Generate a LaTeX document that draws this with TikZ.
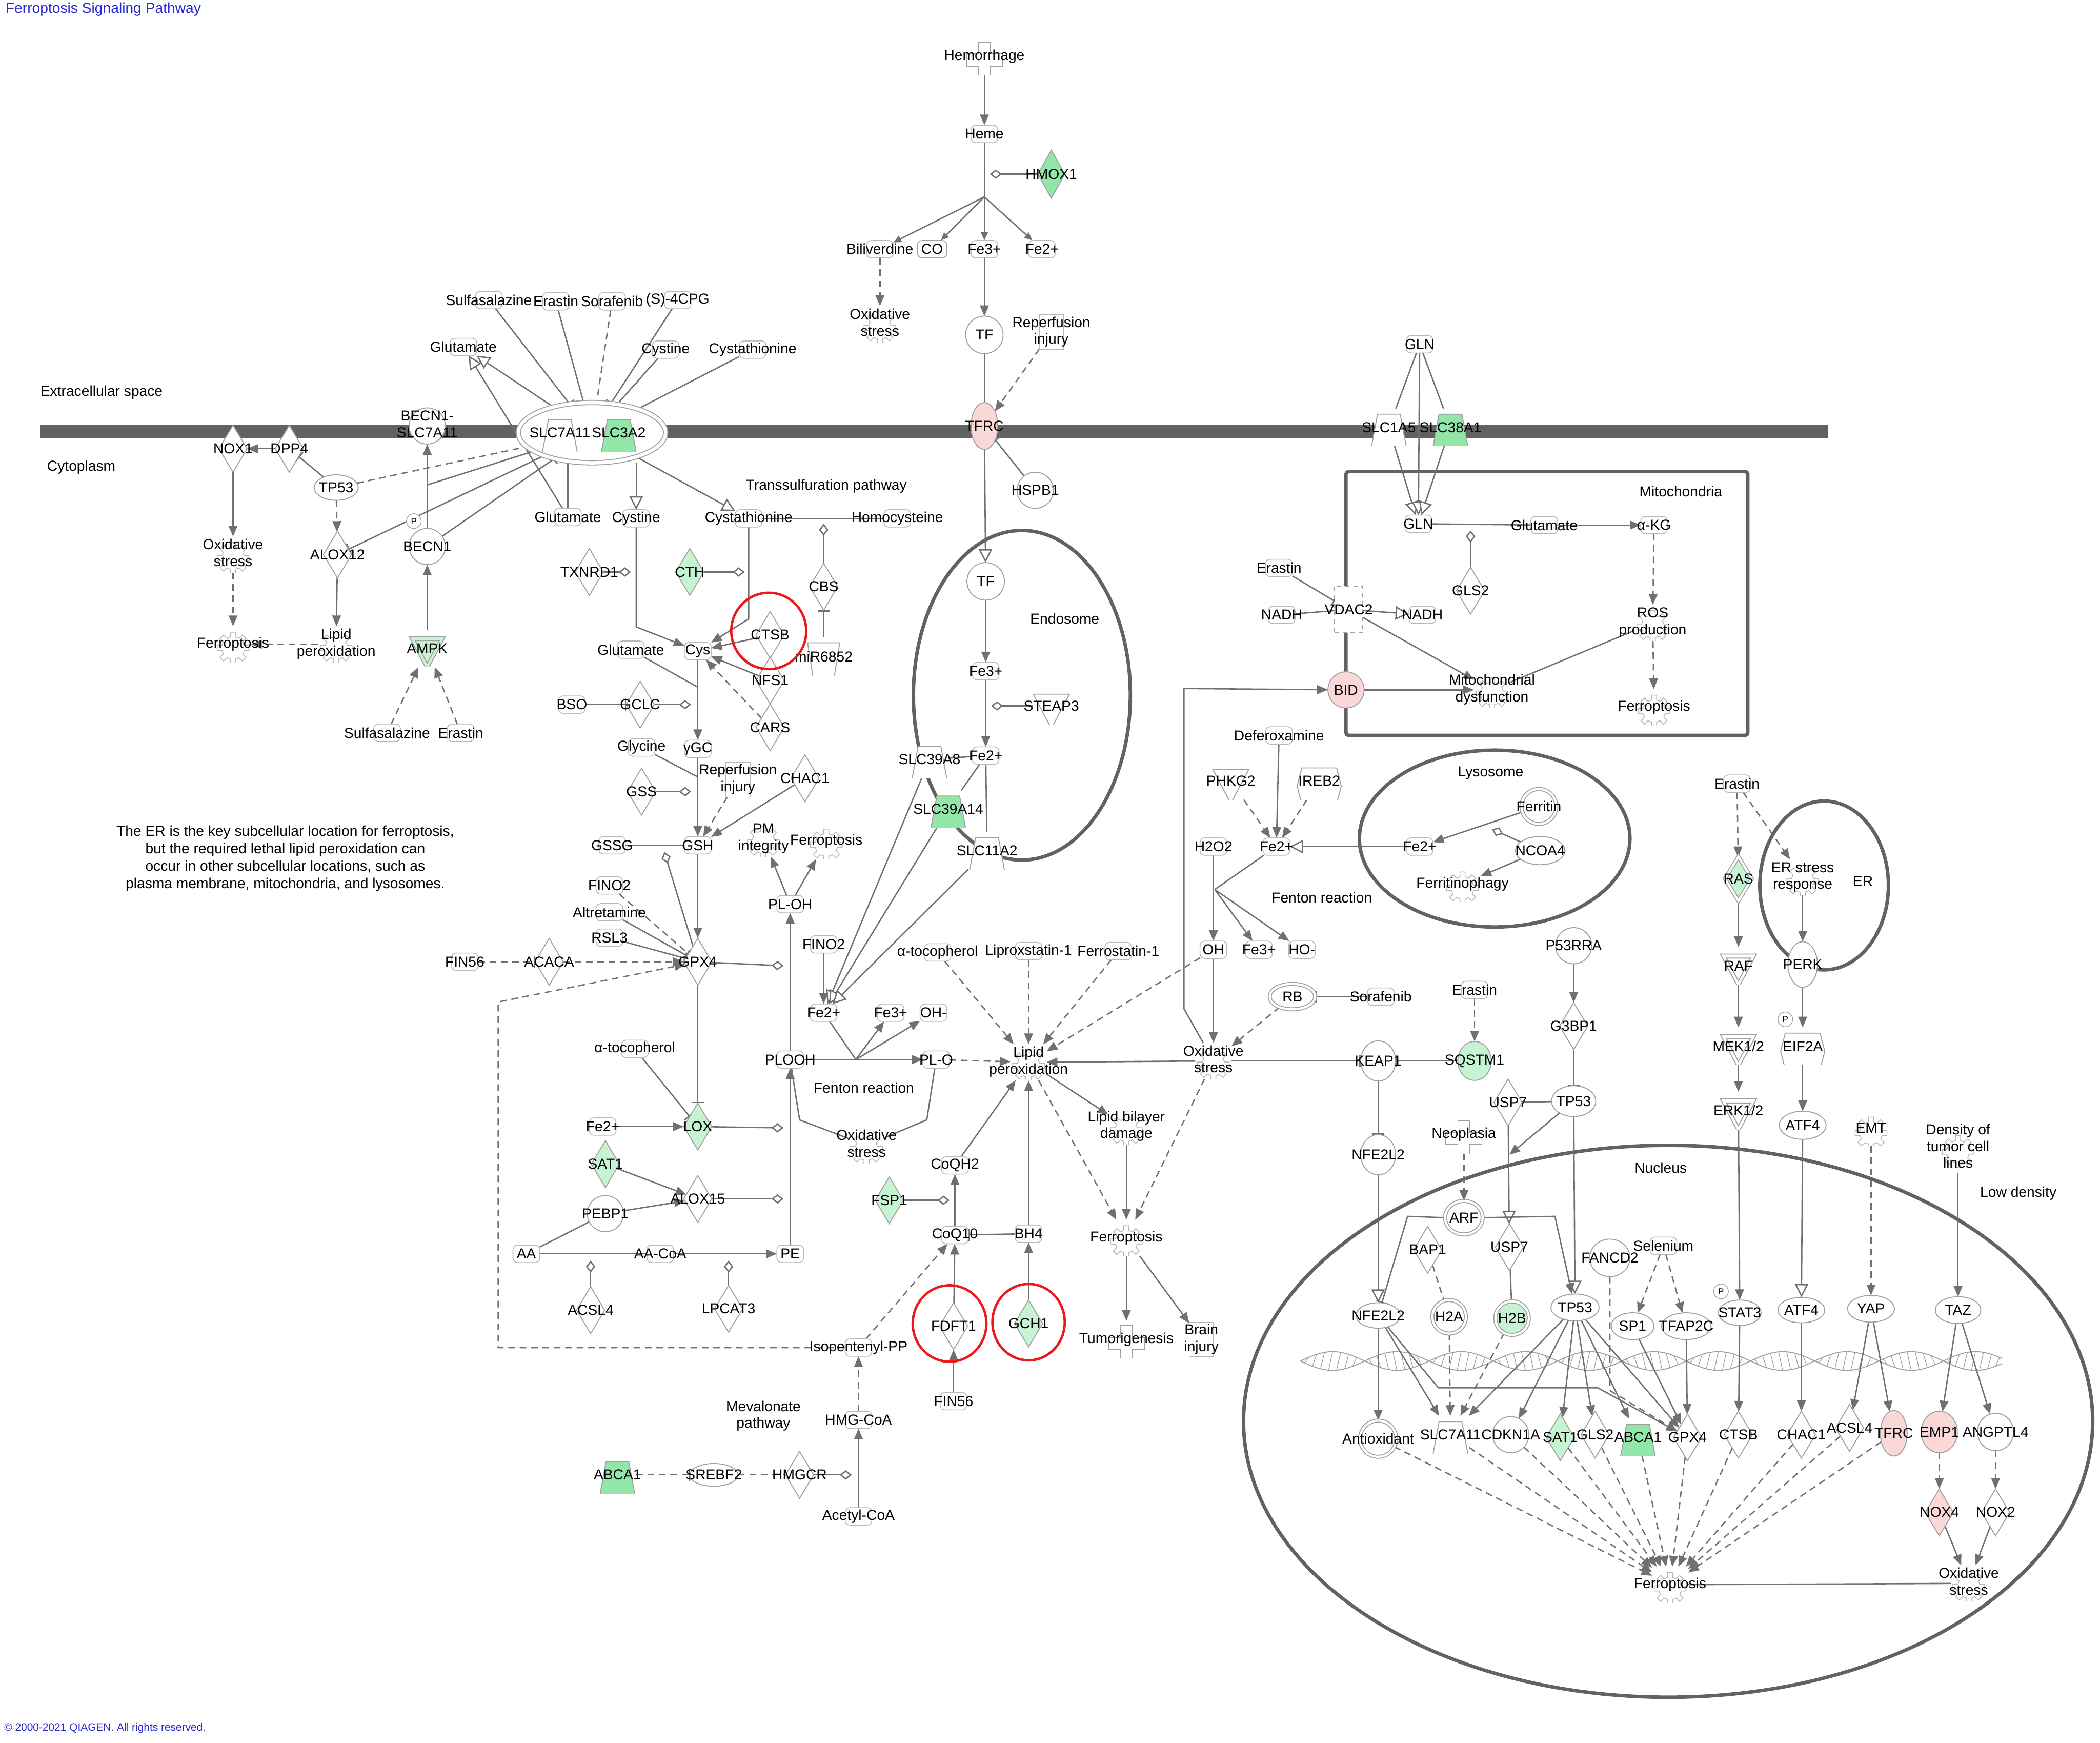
\documentclass[tikz,border=0pt]{standalone}
\usepackage{fontspec}
\setmainfont{Liberation Sans}
\usetikzlibrary{arrows.meta,shapes.geometric,calc}
\pgfdeclarelayer{back}\pgfdeclarelayer{edges}
\pgfsetlayers{back,edges,main}
\definecolor{lc}{RGB}{112,112,112}
\definecolor{sc}{RGB}{160,160,160}
\definecolor{cc}{RGB}{185,185,185}
\definecolor{kc}{RGB}{98,98,98}
\definecolor{gl}{RGB}{198,244,210}
\definecolor{gm}{RGB}{145,230,168}
\definecolor{pk}{RGB}{251,216,216}
\definecolor{tb}{RGB}{40,40,210}
\definecolor{rc}{RGB}{235,25,25}
\newcommand\myfs{\fontsize{10.8}{12.5}\selectfont}
\newcommand\twol[2]{\begin{tabular}{@{}c@{}}#1\\#2\end{tabular}}
\tikzset{
 zw/.style={execute at begin node={\setbox0=\hbox\bgroup}, execute at end node={\egroup\hbox to 0pt{\hss\box0\hss}}},
 nb/.style={font=\myfs, inner sep=0pt, outer sep=0pt, zw, text=black},
 lbl/.style={font=\myfs, inner sep=0pt, text=black},
 chem/.style={nb, rectangle, rounded corners=3.5pt, draw=cc, line width=0.6pt, minimum width=20pt, minimum height=13pt},
 dia/.style={nb, diamond, draw=sc, fill=white, line width=0.7pt, minimum width=21pt, minimum height=35pt},
 trap/.style={nb, rectangle, minimum width=28pt, minimum height=28pt, path picture={\draw[draw=sc, fill=#1, line width=0.7pt, shift={(path picture bounding box.center)}] (-13.5,13.5) -- (13.5,13.5) -- (8.5,-13.5) -- (-8.5,-13.5) -- cycle;}},
 trap/.default=white,
 itrap/.style={nb, rectangle, minimum width=25pt, minimum height=29pt, path picture={\draw[draw=sc, fill=white, line width=0.7pt, shift={(path picture bounding box.center)}] (-12,-14) -- (12,-14) -- (7.5,14) -- (-7.5,14) -- cycle;}},
 ell/.style={nb, ellipse, draw=sc, fill=white, line width=0.7pt, minimum width=34pt, minimum height=20pt},
 circ/.style={nb, circle, draw=sc, fill=white, line width=0.7pt, minimum size=27pt},
 dbl/.style={double=white, double distance=1.6pt},
 kin/.style={nb, rectangle, minimum width=28pt, minimum height=28pt, path picture={\draw[draw=sc, fill=#1, line width=0.7pt, shift={(path picture bounding box.center)}] (-13.5,-12.5) -- (13.5,-12.5) -- (0,13) -- cycle;}},
 kin/.default=white,
 dkin/.style={nb, rectangle, minimum width=28pt, minimum height=28pt, path picture={\begin{scope}[shift={(path picture bounding box.center)}]\draw[draw=sc, fill=#1, line width=0.7pt] (-13.5,-12.5) -- (13.5,-12.5) -- (0,13) -- cycle; \draw[draw=sc, line width=0.7pt] (-9,-9.5) -- (9,-9.5) -- (0,7.5) -- cycle;\end{scope}}},
 dkin/.default=white,
 hex/.style={nb, rectangle, minimum width=34pt, minimum height=28pt, path picture={\draw[draw=sc, fill=white, line width=0.7pt, shift={(path picture bounding box.center)}] (-16.5,0) -- (-13,-13.5) -- (13,-13.5) -- (16.5,0) -- (13,13.5) -- (-13,13.5) -- cycle;}},
 gear/.style={nb, rectangle, minimum width=27pt, minimum height=27pt, path picture={\draw[draw=cc, line width=0.6pt, shift={(path picture bounding box.center)}] (-13:8.5) \foreach \a in {0,45,...,315}{ -- (\a-13:8.5) -- (\a-9:12) -- (\a+9:12) -- (\a+13:8.5)} -- cycle;}},
 dis/.style={nb, rectangle, minimum width=28pt, minimum height=28pt, path picture={\draw[draw=sc, fill=white, line width=0.7pt, shift={(path picture bounding box.center)}] (-4.5,-13.5) -- (4.5,-13.5) -- (4.5,-4.5) -- (13.5,-4.5) -- (13.5,4.5) -- (4.5,4.5) -- (4.5,13.5) -- (-4.5,13.5) -- (-4.5,4.5) -- (-13.5,4.5) -- (-13.5,-4.5) -- (-4.5,-4.5) -- cycle;}},
 rectS/.style={nb, rectangle, draw=cc, line width=0.6pt, minimum width=18pt, minimum height=26pt},
 dashbox/.style={nb, rectangle, draw=sc, dashed, fill=white, line width=0.7pt, minimum width=21pt, minimum height=35pt},
 pc/.style={nb, circle, draw=sc, fill=white, line width=0.5pt, minimum size=11pt, font=\fontsize{6.5}{7}\selectfont},
 cont/.style={draw=kc, line width=2.6pt},
 ln/.style={draw=lc, line width=1pt},
 dsh/.style={dash pattern=on 5pt off 3.5pt},
 act/.style={ln, -{Triangle[length=8pt,width=6.5pt]}},
 sa/.style={ln, -{Triangle[length=6pt,width=5pt]}},
 dact/.style={act, dsh},
 tr/.style={ln, -{Triangle[fill=white,length=10pt,width=10pt]}},
 inh/.style={ln, -{Bar[width=9pt]}},
 dinh/.style={inh, dsh},
 cat/.style={ln, -{Diamond[fill=white,length=9pt,width=7pt]}},
 hx/.style={draw=sc, line width=0.7pt},
 redc/.style={draw=rc, line width=1.8pt}
}
\begin{document}
\begin{tikzpicture}[x=1pt,y=-1pt]
\useasboundingbox (0,0) rectangle (1568,1301);
\begin{pgfonlayer}{back}
\fill[white] (0,0) rectangle (1568,1301);
\draw[line width=9.5pt, draw=kc] (30,322) -- (1365,322);
\draw[cont] (763,519) ellipse [x radius=81, y radius=123];
\draw[cont, rounded corners=2pt] (1005,352) rectangle (1305,549);
\draw[cont] (1116,626) ellipse [x radius=101, y radius=66];
\draw[cont] (1362,661) ellipse [x radius=48, y radius=63];
\draw[cont] (1245.5,1061) ellipse [x radius=317, y radius=206];
\draw[hx] plot[domain=971:1495, samples=240, smooth] (\x, {1016+7*sin((\x-971)*3.75)});
\draw[hx] plot[domain=971:1495, samples=240, smooth] (\x, {1016-7*sin((\x-971)*3.75)});
\foreach \xx in {974,980,...,1490} \draw[hx, line width=0.5pt] (\xx,{1016+7*sin((\xx-971)*3.75)}) -- (\xx+3,{1016-7*sin((\xx+3-971)*3.75)});
\end{pgfonlayer}

% labels
\node[lbl, anchor=west, text=tb] (title) at (4,7) {Ferroptosis Signaling Pathway};
\node[lbl, anchor=west, text=tb, font=\fontsize{8}{9}\selectfont] (copy) at (3,1290) {© 2000-2021 QIAGEN. All rights reserved.};
\node[lbl, anchor=west] (exlab) at (30,293) {Extracellular space};
\node[lbl, anchor=west] (cylab) at (35,349) {Cytoplasm};
\node[lbl] (tslab) at (617,363) {Transsulfuration pathway};
\node[lbl] (endlab) at (795,462) {Endosome};
\node[lbl] (mitlab) at (1255,367) {Mitochondria};
\node[lbl] (lyslab) at (1113,577) {Lysosome};
\node[lbl] (fent1lab) at (645,812) {Fenton reaction};
\node[lbl] (fent2lab) at (987,670) {Fenton reaction};
\node[lbl] (erlab) at (1391,658) {ER};
\node[lbl] (nuclab) at (1240,872) {Nucleus};
\node[lbl] (lowd) at (1507,891) {Low density};
\node[lbl, align=center] (meval) at (570,1057) {Mevalonate\\pathway};
\node[lbl, align=center, font=\fontsize{10.8}{13}\selectfont] (ertext) at (213,641) {The ER is the key subcellular location for ferroptosis,\\but the required lethal lipid peroxidation can\\occur in other subcellular locations, such as\\plasma membrane, mitochondria, and lysosomes.};

% top center
\node[dis] (hemo) at (735,42) {Hemorrhage};
\node[chem] (heme) at (735,100) {Heme};
\node[dia, fill=gm, minimum width=20pt, minimum height=36pt] (hmox1) at (785,130) {HMOX1};
\coordinate (hmoxc) at (739,130);
\coordinate (hb) at (735,147);
\node[chem] (bili) at (657,186) {Biliverdine};
\node[chem, draw=sc, minimum width=22pt] (co) at (696,186) {CO};
\node[chem] (fe3a) at (735,186) {Fe3+};
\node[chem] (fe2a) at (778,186) {Fe2+};
\node[gear] (oxs1) at (657,242) {\twol{Oxidative}{stress}};
\node[circ, minimum size=28pt] (tf1) at (735,250) {TF};
\node[rectS] (rep1) at (785,248) {\twol{Reperfusion}{injury}};
\node[ell, fill=pk, minimum width=20pt, minimum height=35pt] (tfrc) at (735,318) {TFRC};
\node[circ] (hspb1) at (773,366) {HSPB1};

% endosome
\node[circ, minimum size=28pt] (tf2) at (736,434) {TF};
\node[chem] (fe3b) at (736,501) {Fe3+};
\node[kin] (steap3) at (785,527) {STEAP3};
\coordinate (stc) at (740,527);
\node[chem] (fe2b) at (736,564) {Fe2+};
\node[trap] (slc39a8) at (694,567) {SLC39A8};
\node[trap=gm] (slc39a14) at (708,604) {SLC39A14};
\node[trap] (slc11a2) at (737,635) {SLC11A2};

% top-left cluster
\node[chem] (sulf1) at (365,224) {Sulfasalazine};
\node[chem] (erast1) at (415,225) {Erastin};
\node[chem] (soraf1) at (457,225) {Sorafenib};
\node[chem] (cpg) at (506,224) {(S)-4CPG};
\node[chem] (glue) at (346,259) {Glutamate};
\node[chem] (cyse) at (497,261) {Cystine};
\node[chem] (cysthe) at (562,261) {Cystathionine};
\node[ell, dbl, double distance=2.5pt, minimum width=110pt, minimum height=45pt] (cplx) at (442,323) {};
\node[trap] (slc7a11) at (418,323) {SLC7A11};
\node[trap=gm] (slc3a2) at (462,323) {SLC3A2};
\node[chem] (gluc) at (424,386) {Glutamate};
\node[chem] (cysc) at (475,387) {Cystine};
\node[chem] (cysthc) at (559,387) {Cystathionine};
\node[chem] (homoc) at (670,387) {Homocysteine};
\node[dia] (cbs) at (615,438) {CBS};
\coordinate (cbsc) at (615,391);
\node[itrap] (mir) at (615,490) {miR6852};
\node[dia, fill=gl] (cth) at (515,427) {CTH};
\coordinate (cthc) at (556,427);
\node[dia] (txnrd1) at (440,427) {TXNRD1};
\coordinate (txc) at (471,427);
\node[chem] (cys) at (521,486) {Cys};
\node[dia] (ctsb) at (575,474) {CTSB};
\node[dia] (nfs1) at (575,508) {NFS1};
\node[dia] (cars) at (575,543) {CARS};
\node[chem] (glu2) at (471,485) {Glutamate};
\coordinate (glu2c) at (521,513);
\node[chem] (bso) at (427,526) {BSO};
\node[dia] (gclc) at (478,526) {GCLC};
\coordinate (gclcc) at (516,526);
\node[chem] (glyc) at (479,558) {Glycine};
\coordinate (glycc) at (521,580);
\node[chem] (ggc) at (521,559) {γGC};
\node[dia] (gss) at (479,591) {GSS};
\coordinate (gssc) at (516,591);
\node[rectS] (rep2) at (551,582) {\twol{Reperfusion}{injury}};
\node[dia] (chac1) at (601,581) {CHAC1};
\node[chem] (gsh) at (521,631) {GSH};
\node[chem] (gssg) at (457,631) {GSSG};
\coordinate (gssgc) at (496,636);
\node[dia] (gpx4) at (521,718) {GPX4};
\node[chem] (fino2a) at (455,661) {FINO2};
\node[chem] (altr) at (455,681) {Altretamine};
\node[chem] (rsl3) at (455,700) {RSL3};
\node[chem] (fin56a) at (347,718) {FIN56};
\node[dia] (acaca) at (410,718) {ACACA};
\node[chem] (ploh) at (590,675) {PL-OH};
\node[gear] (pmint) at (570,626) {\twol{PM}{integrity}};
\node[gear] (ferro1) at (617,628) {Ferroptosis};
\coordinate (gpxc) at (585,721);
\node[chem] (plooh) at (590,791) {PLOOH};
\node[chem] (pe) at (590,936) {PE};
\node[dia, fill=gl] (lox) at (521,841) {LOX};
\coordinate (loxc) at (585,842);
\node[chem] (fe2d) at (450,841) {Fe2+};
\node[chem] (atoc1) at (474,783) {α-tocopherol};
\node[dia, fill=gl] (sat1a) at (452,869) {SAT1};
\node[dia] (alox15) at (521,895) {ALOX15};
\coordinate (aloxc) at (585,895);
\node[circ] (pebp1) at (452,906) {PEBP1};
\node[chem] (aa) at (393,936) {AA};
\node[chem] (aacoa) at (493,936) {AA-CoA};
\node[dia] (acsl4a) at (441,978) {ACSL4};
\coordinate (acsc) at (441,941);
\node[dia] (lpcat3) at (544,977) {LPCAT3};
\coordinate (lpcc) at (544,941);

% lipid peroxidation area
\node[chem] (fino2b) at (615,705) {FINO2};
\node[chem] (fe2c) at (615,756) {Fe2+};
\node[chem] (fe3c) at (665,756) {Fe3+};
\node[chem] (ohm) at (697,756) {OH-};
\coordinate (fent) at (639,791);
\node[chem] (plo) at (699,791) {PL-O};
\node[gear] (oxs2) at (647,855) {\twol{Oxidative}{stress}};
\coordinate (ox2a) at (597,836);
\coordinate (ox2b) at (692,836);
\node[gear] (lipid) at (768,793) {\twol{Lipid}{peroxidation}};
\node[chem] (atoc2) at (700,711) {α-tocopherol};
\node[chem] (liprox) at (768,710) {Liproxstatin-1};
\node[chem] (ferrost) at (835,710) {Ferrostatin-1};
\node[chem] (coqh2) at (713,870) {CoQH2};
\node[dia, fill=gl] (fsp1) at (664,896) {FSP1};
\coordinate (fspc) at (709,896);
\node[chem] (coq10) at (713,922) {CoQ10};
\node[chem] (bh4) at (768,921) {BH4};
\node[dia] (fdft1) at (712,990) {FDFT1};
\node[dia, fill=gl] (gch1) at (768,988) {GCH1};
\node[chem] (fin56b) at (712,1046) {FIN56};
\node[chem] (ipp) at (641,1006) {Isopentenyl-PP};
\node[chem] (hmgcoa) at (641,1060) {HMG-CoA};
\node[dia] (hmgcr) at (597,1101) {HMGCR};
\coordinate (hmgcrc) at (636,1101);
\node[chem] (acoa) at (641,1132) {Acetyl-CoA};
\node[ell, minimum width=36pt, minimum height=17pt] (srebf2) at (533,1101) {SREBF2};
\node[trap=gm] (abca1a) at (461,1101) {ABCA1};
\node[gear] (lbd) at (841,841) {\twol{Lipid bilayer}{damage}};
\node[gear] (ferro2) at (841,924) {Ferroptosis};
\node[dis] (tumor) at (841,1000) {Tumorigenesis};
\node[rectS] (brain) at (897,1000) {\twol{Brain}{injury}};

% middle right
\node[gear] (oxs3) at (906,792) {\twol{Oxidative}{stress}};
\node[chem] (oh) at (906,709) {OH};
\node[chem] (fe3d) at (940,709) {Fe3+};
\node[chem] (hom) at (972,709) {HO-};
\node[chem] (h2o2) at (906,632) {H2O2};
\node[chem] (fe2e) at (953,632) {Fe2+};
\coordinate (fent2) at (907,664);
\node[chem] (defer) at (955,549) {Deferoxamine};
\node[kin] (phkg2) at (919,583) {PHKG2};
\node[hex] (ireb2) at (985,583) {IREB2};
\node[ell, dbl, minimum width=34pt, minimum height=19pt] (rb) at (965,744) {RB};
\node[chem] (soraf2) at (1031,744) {Sorafenib};
\node[ell, minimum width=26pt, minimum height=30pt] (keap1) at (1029,792) {KEAP1};
\node[ell, fill=gl, minimum width=25pt, minimum height=29pt] (sqstm1) at (1101,792) {SQSTM1};
\node[chem] (erast3) at (1101,739) {Erastin};
\node[ell, minimum width=26pt, minimum height=30pt] (nfe2c) at (1029,862) {NFE2L2};
\node[circ] (p53rra) at (1175,706) {P53RRA};
\node[dia] (g3bp1) at (1175,766) {G3BP1};
\node[ell, minimum width=33pt, minimum height=23pt] (tp53a) at (1175,822) {TP53};
\node[dia] (usp7a) at (1126,823) {USP7};
\node[dis] (neopl) at (1093,847) {Neoplasia};

% mitochondria
\node[chem] (glnE) at (1060,257) {GLN};
\node[trap] (slc1a5) at (1037,319) {SLC1A5};
\node[trap=gm] (slc38a1) at (1083,319) {SLC38A1};
\node[chem] (glnM) at (1059,391) {GLN};
\node[chem] (glum) at (1153,392) {Glutamate};
\node[chem] (akg) at (1235,392) {α-KG};
\node[dia] (gls2) at (1098,441) {GLS2};
\coordinate (glsc) at (1098,396);
\node[gear] (ros) at (1234,465) {\twol{ROS}{production}};
\node[gear] (ferro3) at (1235,528) {Ferroptosis};
\node[gear] (mitod) at (1114,515) {\twol{Mitochondrial}{dysfunction}};
\node[dashbox] (vdac2) at (1007,455) {VDAC2};
\node[chem] (erast2) at (955,424) {Erastin};
\node[chem] (nadh1) at (957,459) {NADH};
\node[chem] (nadh2) at (1062,459) {NADH};
\node[circ, fill=pk] (bid) at (1005,515) {BID};

% lysosome
\node[chem] (fe2l) at (1060,632) {Fe2+};
\node[circ, dbl, minimum size=26pt] (ferritin) at (1149,602) {Ferritin};
\node[ell, minimum width=37pt, minimum height=21pt] (ncoa4) at (1150,635) {NCOA4};
\coordinate (ncoac) at (1114,619);
\node[gear] (ferph) at (1092,660) {Ferritinophagy};

% ER and pathways
\node[chem] (erast4) at (1297,585) {Erastin};
\node[dia, dbl, fill=gl, minimum width=20pt, minimum height=33pt] (ras) at (1298,656) {RAS};
\node[gear] (ers) at (1346,655) {\twol{ER stress}{response}};
\node[ell, minimum width=22pt, minimum height=34pt] (perk) at (1346,720) {PERK};
\node[pc] (pc1) at (1333,761) {P};
\node[hex] (eif2a) at (1346,781) {EIF2A};
\node[ell, minimum width=35pt, minimum height=21pt] (atf4a) at (1346,840) {ATF4};
\node[dkin] (raf) at (1298,721) {RAF};
\node[dkin] (mek) at (1298,781) {MEK1/2};
\node[dkin] (erk) at (1298,829) {ERK1/2};
\node[gear] (emt) at (1397,842) {EMT};
\node[gear] (dens) at (1462,857) {\begin{tabular}{@{}c@{}}Density of\\tumor cell\\lines\end{tabular}};

% nucleus
\node[ell, dbl, minimum width=28pt, minimum height=25pt] (arf) at (1093,909) {ARF};
\node[dia] (bap1) at (1066,933) {BAP1};
\node[dia] (usp7b) at (1127,931) {USP7};
\node[ell, minimum width=30pt, minimum height=28pt] (fancd2) at (1202,939) {FANCD2};
\node[chem] (selen) at (1242,930) {Selenium};
\node[ell, minimum width=33pt, minimum height=19pt] (nfe2n) at (1029,982) {NFE2L2};
\node[circ, dbl, minimum size=25pt] (h2a) at (1082,983) {H2A};
\node[circ, dbl, fill=gl, minimum size=25pt] (h2b) at (1129,984) {H2B};
\node[ell, minimum width=36pt, minimum height=20pt] (tp53b) at (1176,976) {TP53};
\node[ell, minimum width=32pt, minimum height=20pt] (sp1) at (1219,990) {SP1};
\node[ell, minimum width=37pt, minimum height=20pt] (tfap2c) at (1259,990) {TFAP2C};
\node[pc] (pc2) at (1285,964) {P};
\node[ell, minimum width=32pt, minimum height=19pt] (stat3) at (1299,980) {STAT3};
\node[ell, minimum width=35pt, minimum height=19pt] (atf4n) at (1345,978) {ATF4};
\node[ell, minimum width=35pt, minimum height=20pt] (yap) at (1397,977) {YAP};
\node[ell, minimum width=34pt, minimum height=20pt] (taz) at (1462,978) {TAZ};
\node[circ, dbl] (antiox) at (1029,1074) {Antioxidant};
\node[trap] (slc7n) at (1083,1071) {SLC7A11};
\node[circ] (cdkn1a) at (1128,1071) {CDKN1A};
\node[dia, fill=gl] (sat1n) at (1165,1073) {SAT1};
\node[dia] (gls2n) at (1191,1071) {GLS2};
\node[trap=gm] (abca1n) at (1223,1073) {ABCA1};
\node[dia] (gpx4n) at (1260,1073) {GPX4};
\node[dia] (ctsbn) at (1298,1071) {CTSB};
\node[dia] (chac1n) at (1345,1071) {CHAC1};
\node[dia] (acsl4n) at (1381,1066) {ACSL4};
\node[ell, fill=pk, minimum width=20pt, minimum height=34pt] (tfrcn) at (1414,1070) {TFRC};
\node[ell, fill=pk, minimum width=27pt, minimum height=31pt] (emp1) at (1448,1069) {EMP1};
\node[ell, minimum width=27pt, minimum height=28pt] (angptl4) at (1490,1069) {ANGPTL4};
\node[dia, fill=pk] (nox4) at (1448,1129) {NOX4};
\node[dia] (nox2) at (1490,1129) {NOX2};
\node[gear] (oxs4) at (1470,1182) {\twol{Oxidative}{stress}};
\node[gear] (ferro4) at (1247,1183) {Ferroptosis};

% left
\node[dia] (nox1) at (174,335) {NOX1};
\node[dia] (dpp4) at (216,335) {DPP4};
\node[ell, minimum width=33pt, minimum height=19pt] (tp53L) at (251,364) {TP53};
\node[gear] (oxsL) at (174,414) {\twol{Oxidative}{stress}};
\node[gear] (ferroL) at (174,481) {Ferroptosis};
\node[dia] (alox12) at (252,414) {ALOX12};
\node[gear] (lpL) at (251,481) {\twol{Lipid}{peroxidation}};
\node[circ] (becnslc) at (319,318) {\twol{BECN1-}{SLC7A11}};
\node[circ] (becn1) at (319,408) {BECN1};
\node[pc] (pc3) at (309,389) {P};
\node[dkin=gl] (ampk) at (319,484) {AMPK};
\node[chem] (sulf2) at (289,547) {Sulfasalazine};
\node[chem] (erast5) at (344,547) {Erastin};

% red circles
\draw[redc] (574,471) ellipse [x radius=28, y radius=28.5];
\draw[redc] (709,988) ellipse [x radius=27.5, y radius=28.5];
\draw[redc] (768,987) ellipse [x radius=27, y radius=28.5];

\begin{pgfonlayer}{edges}
% top center
\draw[act] (hemo) -- (heme);
\draw[ln] (heme) -- (hb);
\draw[sa] (hb) -- (bili);
\draw[sa] (hb) -- (co);
\draw[sa] (hb) -- (fe3a);
\draw[sa] (hb) -- (fe2a);
\draw[cat] (hmox1) -- (hmoxc);
\draw[dact] (bili) -- (oxs1);
\draw[act] (fe3a) -- (tf1);
\draw[dact] (rep1) -- (tfrc);
\draw[ln] (tf1) -- (tfrc);
\draw[inh] (hspb1) -- (tfrc);
\draw[tr] (tfrc) -- (tf2);
\draw[act] (tf2) -- (fe3b);
\draw[act] (fe3b) -- (fe2b);
\draw[cat] (steap3) -- (stc);
\draw[ln] (slc39a8) -- (fe2b);
\draw[ln] (fe2b) -- (slc39a14);
\draw[ln] (fe2b) -- (slc11a2);
\draw[tr] (slc39a8) -- (fe2c);
\draw[tr] (slc39a14) -- (fe2c);
\draw[tr] (slc11a2) -- (fe2c);
% top-left
\draw[inh] (sulf1) -- (cplx);
\draw[inh] (erast1) -- (cplx);
\draw[dinh] (soraf1) -- (cplx);
\draw[inh] (cpg) -- (cplx);
\draw[ln] (cyse) -- (cplx);
\draw[ln] (cysthe) -- (cplx);
\draw[tr] (cplx) -- (glue);
\draw[tr] (gluc) -- (glue);
\draw[ln] (cplx.south -| gluc) -- (gluc);
\draw[tr] (cplx.south -| cysc) -- (cysc);
\draw[tr] (cplx) -- (cysthc);
\draw[ln, dsh] (tp53L) -- (cplx);
\draw[inh] (cplx) -- (alox12);
\draw[ln] (cplx) -- (319,362);
\draw[inh] (becn1) -- (cplx);
\draw[ln] (cysthc) -- (homoc);
\draw[cat] (cbs) -- (cbsc);
\draw[inh] (mir) -- (cbs);
\draw[act] (cysc) -- (475,468) -- (cys);
\draw[cat] (txnrd1) -- (txc);
\draw[act] (cysthc) -- (559,462) -- (cys);
\draw[cat] (cth) -- (cthc);
\draw[act] (ctsb) -- (cys);
\draw[act] (nfs1) -- (cys);
\draw[dact] (cars) -- (cys);
\draw[ln] (glu2) -- (glu2c);
\draw[act] (cys) -- (ggc);
\draw[cat] (gclc) -- (gclcc);
\draw[inh] (bso) -- (gclc);
\draw[ln] (glyc) -- (glycc);
\draw[act] (ggc) -- (gsh);
\draw[cat] (gss) -- (gssc);
\draw[dact] (rep2) -- (gsh);
\draw[act] (chac1) -- (gsh);
\draw[ln] (gssg) -- (gsh);
\draw[cat] (gpx4) -- (gssgc);
\draw[act] (gsh) -- (gpx4);
\draw[dinh] (fino2a) -- (gpx4);
\draw[inh] (altr) -- (gpx4);
\draw[inh] (rsl3) -- (gpx4);
\draw[dinh] (fin56a) -- (acaca);
\draw[dact] (acaca) -- (gpx4);
\draw[dact] (ipp) -- (372,1006) -- (372,748) -- (gpx4);
\draw[cat] (gpx4) -- (gpxc);
\draw[inh] (gpx4) -- (lox);
\draw[act] (plooh) -- (ploh);
\draw[act] (ploh) -- (pmint);
\draw[act] (ploh) -- (ferro1);
\draw[act] (pe) -- (plooh);
\draw[cat] (lox) -- (loxc);
\draw[act] (fe2d) -- (lox);
\draw[inh] (atoc1) -- (lox);
\draw[act] (sat1a) -- (alox15);
\draw[act] (pebp1) -- (alox15);
\draw[cat] (alox15) -- (aloxc);
\draw[ln] (aa) -- (pebp1);
\draw[ln] (aa) -- (aacoa);
\draw[act] (aacoa) -- (pe);
\draw[cat] (acsl4a) -- (acsc);
\draw[cat] (lpcat3) -- (lpcc);
% lipid peroxidation
\draw[act] (fino2b) -- (fe2c);
\draw[ln] (fe2c) -- (fent);
\draw[act] (fent) -- (fe3c);
\draw[act] (fent) -- (ohm);
\draw[act] (plooh) -- (plo);
\draw[ln] (plooh) -- (ox2a) -- (oxs2) -- (ox2b) -- (plo);
\draw[dact] (plo) -- (lipid);
\draw[dact] (atoc2) -- (lipid);
\draw[dact] (liprox) -- (lipid);
\draw[dact] (ferrost) -- (lipid);
\draw[dact] (oh) -- (lipid);
\draw[act] (coqh2) -- (lipid);
\draw[act] (bh4) -- (lipid);
\draw[act] (coq10) -- (coqh2);
\draw[cat] (fsp1) -- (fspc);
\draw[inh] (bh4) -- (coq10);
\draw[act] (fdft1) -- (coq10);
\draw[act] (gch1) -- (bh4);
\draw[act] (fin56b) -- (fdft1);
\draw[dact] (ipp) -- (coq10);
\draw[dact] (hmgcoa) -- (ipp);
\draw[act] (acoa) -- (hmgcoa);
\draw[cat] (hmgcr) -- (hmgcrc);
\draw[ln, dsh] (srebf2) -- (hmgcr);
\draw[dinh] (abca1a) -- (srebf2);
\draw[act] (lipid) -- (lbd);
\draw[dact] (lipid) -- (ferro2);
\draw[act] (lbd) -- (ferro2);
\draw[dact] (oxs3) -- (ferro2);
\draw[act] (oxs3) -- (lipid);
\draw[act] (ferro2) -- (tumor);
\draw[act] (ferro2) -- (brain);
% middle right
\draw[act] (oh) -- (oxs3);
\draw[act] (h2o2) -- (oh);
\draw[ln] (fe2e) -- (fent2);
\draw[act] (fent2) -- (fe3d);
\draw[act] (fent2) -- (hom);
\draw[act] (defer) -- (fe2e);
\draw[dact] (phkg2) -- (fe2e);
\draw[dact] (ireb2) -- (fe2e);
\draw[tr] (fe2l) -- (fe2e);
\draw[dact] (rb) -- (oxs3);
\draw[inh] (soraf2) -- (rb);
\draw[inh] (oxs3) -- (keap1);
\draw[inh] (sqstm1) -- (keap1);
\draw[dact] (erast3) -- (sqstm1);
\draw[inh] (keap1) -- (nfe2c);
\draw[act] (oxs3) -- (884,753) -- (884,514) -- (bid);
\draw[act] (p53rra) -- (g3bp1);
\draw[inh] (g3bp1) -- (tp53a);
\draw[ln] (usp7a) -- (tp53a);
\draw[act] (tp53a) -- (1127,862);
\draw[tr] (usp7a) -- (usp7b);
\draw[tr] (tp53a) -- (tp53b);
\draw[tr] (nfe2c) -- (nfe2n);
\draw[dact] (neopl) -- (arf);
% mitochondria
\draw[ln] (glnE) -- (slc1a5);
\draw[tr] (slc1a5) -- (glnM);
\draw[tr] (glnE) -- (glnM);
\draw[ln] (glnE) -- (slc38a1);
\draw[tr] (slc38a1) -- (glnM);
\draw[ln] (glnM) -- (glum);
\draw[act] (glum) -- (akg);
\draw[cat] (gls2) -- (glsc);
\draw[dact] (akg) -- (ros);
\draw[dact] (ros) -- (ferro3);
\draw[ln] (ros) -- (mitod);
\draw[act] (vdac2) -- (mitod);
\draw[act] (bid) -- (mitod);
\draw[inh] (erast2) -- (vdac2);
\draw[ln] (nadh1) -- (vdac2);
\draw[tr] (vdac2) -- (nadh2);
% lysosome
\draw[act] (ferritin) -- (fe2l);
\draw[cat] (ncoa4) -- (ncoac);
\draw[act] (ncoa4) -- (ferph);
% ER
\draw[dact] (erast4) -- (ras);
\draw[dact] (erast4) -- (ers);
\draw[act] (ers) -- (perk);
\draw[act] (perk) -- (eif2a);
\draw[act] (eif2a) -- (atf4a);
\draw[tr] (atf4a) -- (atf4n);
\draw[act] (ras) -- (raf);
\draw[act] (raf) -- (mek);
\draw[act] (mek) -- (erk);
\draw[act] (erk) -- (stat3);
\draw[dact] (emt) -- (yap);
\draw[act] (dens) -- (taz);
% nucleus
\draw[inh] (arf.west) -- (1051,908) -- (nfe2n);
\draw[act] (arf.east) -- (1161,908) -- (tp53b);
\draw[dinh] (bap1) -- (h2a);
\draw[inh] (usp7b) -- (h2b);
\draw[dact] (fancd2) -- (1202,1038) -- (gpx4n);
\draw[dact] (selen) -- (sp1);
\draw[dact] (selen) -- (tfap2c);
\draw[act] (nfe2n) -- (antiox);
\draw[act] (nfe2n) -- (slc7n);
\draw[act] (nfe2n) -- (1074,1036) -- (1193,1036) -- (gpx4n);
\draw[dact] (h2a) -- (slc7n);
\draw[dact] (h2b) -- (slc7n);
\foreach \nn in {slc7n,cdkn1a,sat1n,gls2n,abca1n,gpx4n} \draw[act] (tp53b) -- (\nn);
\draw[act] (sp1) -- (gpx4n);
\draw[act] (tfap2c) -- (gpx4n);
\draw[act] (stat3) -- (ctsbn);
\draw[act] (atf4n) -- (chac1n);
\draw[act] (yap) -- (acsl4n);
\draw[act] (yap) -- (tfrcn);
\draw[act] (taz) -- (emp1);
\draw[act] (taz) -- (angptl4);
\draw[dact] (emp1) -- (nox4);
\draw[dact] (angptl4) -- (nox2);
\draw[act] (nox4) -- (oxs4);
\draw[act] (nox2) -- (oxs4);
\foreach \nn in {antiox,slc7n,cdkn1a,sat1n,gls2n,abca1n,gpx4n,ctsbn,chac1n,acsl4n,tfrcn} \draw[dact] (\nn) -- (ferro4);
\draw[ln] (ferro4) -- (oxs4);
% left
\draw[act] (dpp4) -- (nox1);
\draw[inh] (tp53L) -- (dpp4);
\draw[act] (nox1) -- (oxsL);
\draw[dact] (oxsL) -- (ferroL);
\draw[dact] (tp53L) -- (alox12);
\draw[act] (alox12) -- (lpL);
\draw[dact] (lpL) -- (ferroL);
\draw[act] (becn1) -- (becnslc);
\draw[act] (ampk) -- (becn1);
\draw[dact] (sulf2) -- (ampk);
\draw[dact] (erast5) -- (ampk);
\end{pgfonlayer}
\end{tikzpicture}
\end{document}
